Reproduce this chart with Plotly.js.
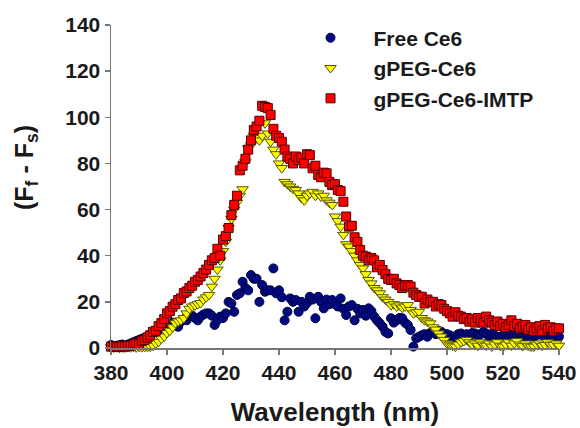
<!DOCTYPE html>
<html>
<head>
<meta charset="utf-8">
<script src="https://cdn.plot.ly/plotly-3.0.1.min.js"></script>
<style>html,body{margin:0;padding:0;background:#fff;}#chart{width:580px;height:428px;}</style>
</head>
<body>
<div id="chart"></div>
<script>
var wavelength = [380,381,382,383,384,385,386,387,388,389,390,391,392,393,394,395,396,397,398,399,
400,401,402,403,404,405,406,407,408,409,410,411,412,413,414,415,416,417,418,419,
420,421,422,423,424,425,426,427,428,429,430,431,432,433,434,435,436,437,438,439,
440,441,442,443,444,445,446,447,448,449,450,451,452,453,454,455,456,457,458,459,
460,461,462,463,464,465,466,467,468,469,470,471,472,473,474,475,476,477,478,479,
480,481,482,483,484,485,486,487,488,489,490,491,492,493,494,495,496,497,498,499,
500,501,502,503,504,505,506,507,508,509,510,511,512,513,514,515,516,517,518,519,
520,521,522,523,524,525,526,527,528,529,530,531,532,533,534,535,536,537,538,539,540];

var freeCe6 = [1.3,0.8,1.0,1.2,1.5,1.0,1.5,2.0,2.5,3.0,3.5,4.0,4.5,5.0,6.0,6.5,7.0,8.0,8.5,9.0,
9.5,10.0,11.0,10.5,9.2,11.5,12.5,12.0,13.6,14.0,13.0,12.0,13.6,14.5,15.0,15.0,14.0,10.0,12.0,13.6,
13.0,15.0,20.0,19.3,15.7,23.0,23.7,28.7,26.0,25.0,31.6,30.0,30.0,20.0,27.3,24.4,25.0,25.0,34.5,23.7,
25.0,22.0,12.0,15.7,21.5,20.0,20.8,15.7,20.0,18.0,19.5,22.2,21.0,12.9,22.2,20.0,17.2,21.0,19.0,20.8,
19.0,18.0,21.5,17.0,14.3,18.0,18.6,12.0,17.0,15.0,16.5,14.0,17.2,16.0,13.6,12.0,10.7,9.2,7.0,6.3,
12.9,11.0,12.0,13.0,12.9,11.0,10.0,7.8,0.6,4.2,4.9,5.5,6.0,4.9,6.5,7.0,6.0,7.5,7.0,6.0,
6.0,5.5,4.2,5.0,6.0,6.3,5.5,6.0,5.0,6.5,6.3,5.5,6.0,7.0,6.3,5.0,6.0,5.5,4.5,4.9,
5.5,6.0,5.0,6.0,6.3,5.5,6.0,5.0,5.5,4.9,6.0,5.0,5.5,6.0,5.6,5.0,6.0,5.5,5.0,5.5,4.9];

var gpegCe6 = [0.3,0.2,0.4,0.1,0.3,0.2,0.4,0.3,0.5,0.3,0.5,0.4,0.5,0.5,0.6,1.0,2.0,2.7,4.0,5.0,
6.5,7.5,9.0,10.8,11.5,12.0,13.0,15.0,17.0,18.0,18.5,19.0,19.5,21.0,22.0,23.0,26.6,30.0,34.0,38.0,
42.0,46.0,52.0,56.0,60.0,63.0,66.0,68.8,80.7,86.5,88.0,92.0,91.0,90.0,92.0,97.4,93.0,89.4,86.0,84.0,
80.0,78.0,72.0,71.0,70.0,69.0,68.5,67.0,65.0,64.0,66.0,67.0,67.7,66.0,67.0,65.6,66.0,64.0,63.0,62.0,
57.0,55.0,52.6,49.0,45.0,44.0,42.0,40.0,38.0,36.0,34.5,32.0,29.5,28.0,26.0,25.0,23.7,22.0,21.0,20.0,
18.6,19.0,18.0,18.5,17.5,18.0,18.6,16.5,15.0,15.5,15.7,13.0,12.0,11.5,10.7,9.0,8.0,6.3,5.0,3.5,
2.0,1.5,1.0,0.6,1.5,2.5,3.0,3.5,2.5,1.5,2.0,1.0,2.5,1.5,1.0,2.0,0.6,1.5,2.5,1.0,
0.6,1.5,2.5,1.0,2.0,3.0,1.5,0.8,2.0,1.0,0.6,0.6,1.5,2.0,1.0,1.3,2.5,1.5,1.3,2.0,1.0];

var gpegCe6Imtp = [0.6,0.5,0.7,0.4,0.8,0.6,1.0,0.9,1.5,2.0,1.8,3.0,3.5,4.5,5.5,7.0,7.5,9.5,10.8,12.5,
15.0,16.0,17.9,19.0,20.8,21.5,23.8,24.5,26.0,27.0,28.7,29.5,31.0,32.5,34.0,36.0,38.0,39.0,43.0,40.0,
47.0,48.5,52.0,57.6,62.0,66.0,77.0,79.0,82.0,86.0,90.0,94.5,96.0,98.5,105.0,104.5,104.0,101.0,95.0,92.0,
91.0,89.4,86.0,83.0,82.0,80.0,83.0,81.5,82.5,80.0,84.0,83.6,77.9,79.0,75.0,74.0,76.0,75.7,72.0,70.6,
71.0,68.5,68.0,63.4,57.0,52.6,53.0,48.0,46.0,42.5,40.0,39.6,38.0,39.0,38.0,35.0,36.0,33.8,32.0,30.0,
29.5,30.0,28.0,27.3,26.0,27.0,27.3,26.6,24.0,23.0,22.2,22.2,19.3,21.0,20.0,20.0,18.0,19.0,18.6,17.0,
16.0,15.0,13.6,15.5,14.0,13.6,12.5,13.0,11.4,12.5,11.0,13.0,12.0,11.0,13.6,12.0,11.0,10.0,11.5,9.5,
10.5,9.0,10.0,12.0,9.5,10.5,8.5,9.2,10.0,8.0,9.0,7.5,8.5,9.5,7.5,10.0,8.5,9.0,7.5,8.5,8.5];

var seriesNames = ['Free Ce6', 'gPEG-Ce6', 'gPEG-Ce6-IMTP'];
var xTickVals = [380,400,420,440,460,480,500,520,540];
var yTickVals = [0,20,40,60,80,100,120,140];

var FONT = 'Liberation Sans, Arial, sans-serif';

var traces = [
  {x: wavelength, y: freeCe6, name: seriesNames[0], type: 'scatter', mode: 'markers', cliponaxis: false,
   marker: {symbol: 'circle', size: 9, color: '#000a80', line: {color: '#000040', width: 1}}},
  {x: wavelength, y: gpegCe6, name: seriesNames[1], type: 'scatter', mode: 'markers', cliponaxis: false,
   marker: {symbol: 'triangle-down', size: 10, color: '#ffff00', line: {color: '#555500', width: 1}}},
  {x: wavelength, y: gpegCe6Imtp, name: seriesNames[2], type: 'scatter', mode: 'markers', cliponaxis: false,
   marker: {symbol: 'square', size: 9, color: '#ff0000', line: {color: '#500000', width: 1}}}
];

var layout = {
  width: 580, height: 428,
  margin: {l: 111, r: 21, t: 25, b: 80},
  paper_bgcolor: '#ffffff', plot_bgcolor: '#ffffff',
  font: {family: FONT, color: '#1a1a1a'},
  showlegend: true,
  legend: {x: 0.394, y: 1.023, xanchor: 'left', yanchor: 'top', bgcolor: 'rgba(0,0,0,0)',
           font: {family: FONT, size: 21, weight: 'bold', color: '#1a1a1a'}, itemwidth: 76, tracegroupgap: 0},
  xaxis: {range: [380, 540], tickvals: xTickVals, ticks: 'outside', ticklen: 5, tickwidth: 1.5, tickcolor: '#777',
          showline: true, linecolor: '#777', linewidth: 1.5, showgrid: false, zeroline: false,
          tickfont: {family: FONT, size: 21, weight: 'bold', color: '#1a1a1a'},
          title: {text: 'Wavelength (nm)', standoff: 20, font: {family: FONT, size: 26, weight: 'bold', color: '#1a1a1a'}}},
  yaxis: {range: [0, 140], tickvals: yTickVals, ticks: 'outside', ticklen: 5, tickwidth: 1.5, tickcolor: '#777',
          showline: true, linecolor: '#777', linewidth: 1.5, showgrid: false, zeroline: false,
          tickfont: {family: FONT, size: 21, weight: 'bold', color: '#1a1a1a'}},
  annotations: [
    {text: '(F<sub>f</sub> - F<sub>s</sub>)', textangle: -90, xref: 'paper', yref: 'paper',
     x: -0.19, y: 0.56, xanchor: 'center', yanchor: 'middle', showarrow: false,
     font: {family: FONT, size: 25, weight: 'bold', color: '#1a1a1a'}}
  ]
};

Plotly.newPlot('chart', traces, layout, {displayModeBar: false, staticPlot: true});
</script>
</body>
</html>
